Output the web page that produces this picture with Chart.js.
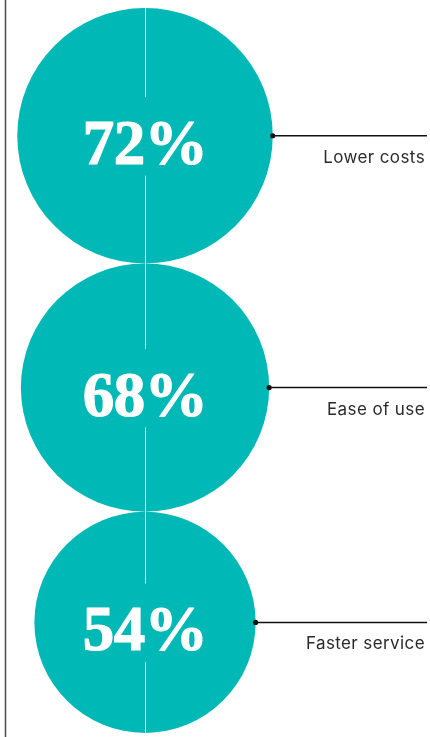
<!DOCTYPE html>
<html>
<head>
<meta charset="utf-8">
<script src="https://cdn.jsdelivr.net/npm/chart.js@4.4.1/dist/chart.umd.min.js"></script>
<style>
  html, body { margin: 0; padding: 0; background: #fff; }
  #wrap { position: relative; width: 430px; height: 737px; }
</style>
</head>
<body>
<div id="wrap"><canvas id="bubbles"></canvas></div>
<script>
// values
var categories = ["Lower costs", "Ease of use", "Faster service"];
var shares = [72, 68, 54];
var valueLabels = ["72%", "68%", "54%"];

var teal = "#00b8b6";

// circles are sized by area, stacked one under another
var sizes = shares.map(function(v){ return Math.sqrt(v); });
var centres = [];
var run = 0;
for (var i = 0; i < sizes.length; i++) {
    centres.push(run + sizes[i]);
    run += 2 * sizes[i];
}
var yMax = run;

var calloutPlugin = {
    id: "callouts",
    beforeDraw: function(chart){
        var ctx = chart.ctx;
        ctx.save();
        ctx.strokeStyle = "#4a4a4a";
        ctx.lineWidth = 1.5;
        ctx.beginPath();
        ctx.moveTo(5.5, 0);
        ctx.lineTo(5.5, chart.height);
        ctx.stroke();
        ctx.restore();
    },
    afterDatasetsDraw: function(chart){
        var ctx = chart.ctx;
        var meta = chart.getDatasetMeta(0);
        ctx.save();
        meta.data.forEach(function(pt, i){
            var r = pt.options.radius;
            var x = pt.x, y = pt.y;
            var lx = Math.round(x) + 0.5;

            // white split line, broken around the number
            ctx.strokeStyle = "#ffffff";
            ctx.lineWidth = 1;
            ctx.beginPath();
            ctx.moveTo(lx, y - r - 2);
            ctx.lineTo(lx, y - 39);
            ctx.moveTo(lx, y + 40);
            ctx.lineTo(lx, y + r + 2);
            ctx.stroke();

            ctx.fillStyle = "#ffffff";
            ctx.strokeStyle = "#ffffff";
            ctx.lineWidth = 1.2;
            ctx.lineJoin = "round";
            ctx.font = "bold 63px 'Liberation Serif', serif";
            ctx.letterSpacing = "-0.5px";
            ctx.textAlign = "center";
            ctx.textBaseline = "alphabetic";
            ctx.fillText(valueLabels[i], x, y + 28);
            ctx.strokeText(valueLabels[i], x, y + 28);
            ctx.letterSpacing = "0px";

            // connector
            ctx.strokeStyle = "#111111";
            ctx.lineWidth = 1.5;
            ctx.beginPath();
            ctx.moveTo(x + r, y);
            ctx.lineTo(chart.width - 3, y);
            ctx.stroke();
            ctx.fillStyle = "#111111";
            ctx.beginPath();
            ctx.arc(x + r, y, 2.6, 0, Math.PI * 2);
            ctx.fill();

            ctx.fillStyle = "#2a2a2a";
            ctx.font = "17px Inter, 'Noto Sans', sans-serif";
            ctx.letterSpacing = "0.4px";
            ctx.textAlign = "right";
            ctx.fillText(categories[i], chart.width - 5, y + 27);
            ctx.letterSpacing = "0px";
        });
        ctx.restore();
    }
};

var chart = new Chart(document.getElementById("bubbles"), {
    type: "bubble",
    data: {
        labels: categories,
        datasets: [{
            data: centres.map(function(c){ return { x: 0, y: c, r: 1 }; }),
            backgroundColor: teal,
            borderWidth: 0,
            clip: false,
            hoverRadius: 0
        }]
    },
    options: {
        maintainAspectRatio: false,
        responsive: true,
        animation: false,
        events: [],
        layout: { autoPadding: false, padding: { top: 8, bottom: 4, left: 0, right: 140 } },
        scales: {
            x: { display: false, min: -1, max: 1 },
            y: { display: false, min: 0, max: yMax, reverse: true }
        },
        plugins: {
            legend: { display: false },
            tooltip: { enabled: false }
        }
    },
    plugins: [calloutPlugin]
});

// bubble radius is in pixels: match it to the y scale once the area is known
var yScale = chart.scales.y;
var pxPerUnit = Math.abs(yScale.getPixelForValue(1) - yScale.getPixelForValue(0));
chart.data.datasets[0].data.forEach(function(d, i){
    d.r = sizes[i] * pxPerUnit;
});
chart.update();
</script>
</body>
</html>
